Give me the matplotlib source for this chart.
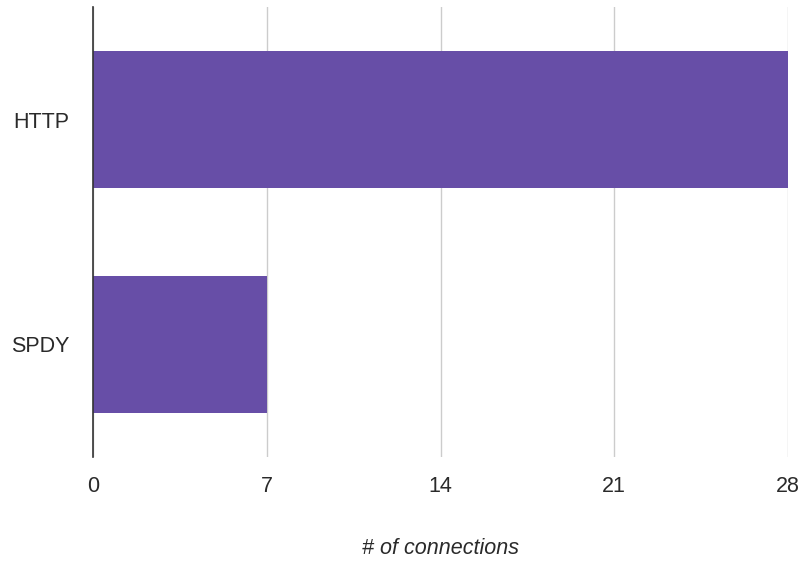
import numpy as np
import matplotlib
matplotlib.use("Agg")
import matplotlib.pyplot as plt

# data
protocols = ["HTTP", "SPDY"]
connections = [28, 7]
xticks = [0, 7, 14, 21, 28]

bar_color = "#674ea7"
text_color = "#2a2a2a"

plt.rcParams["font.family"] = ["Liberation Sans", "DejaVu Sans"]

fig = plt.figure(figsize=(8.01, 5.61), dpi=100)
ax = fig.add_axes([93/801, 1 - 457/561, (788 - 93)/801, (457 - 7)/561])

ypos = np.arange(len(protocols))
ax.barh(ypos, connections, height=0.61, color=bar_color, zorder=3)

ax.set_ylim(len(protocols) - 0.5, -0.5)
ax.set_xlim(0, 28)
ax.set_yticks(ypos)
ax.set_yticklabels(protocols)
ax.set_xticks(xticks)
ax.set_xticklabels([str(t) for t in xticks])

ax.grid(axis="x", color="#cccccc", linewidth=1, zorder=0)
for s in ["top", "right", "bottom"]:
    ax.spines[s].set_visible(False)
ax.spines["left"].set_color("#333333")
ax.spines["left"].set_linewidth(1.2)
ax.spines["left"].set_zorder(4)

ax.tick_params(axis="both", length=0, labelsize=15.5, labelcolor=text_color)
ax.tick_params(axis="x", pad=14)
ax.tick_params(axis="y", pad=17)

ax.set_xlabel("# of connections", fontsize=15.5, style="italic",
              color=text_color, labelpad=29)

fig.savefig("out.png", dpi=100)
